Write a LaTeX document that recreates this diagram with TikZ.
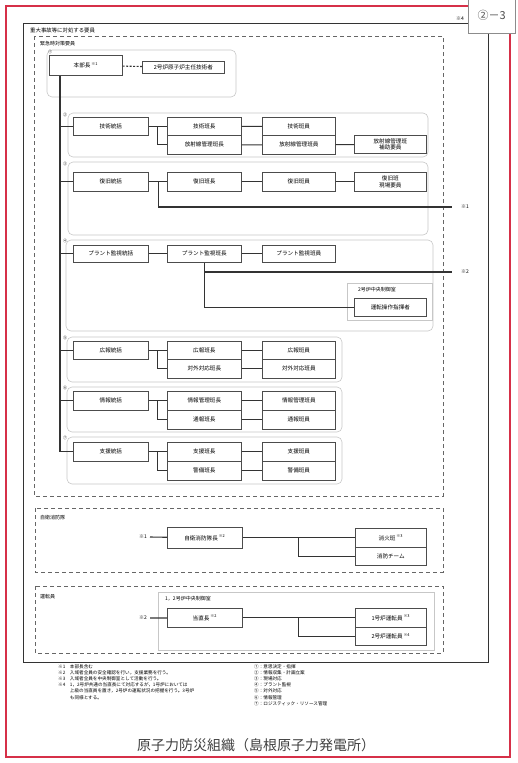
\documentclass[tikz,border=0pt]{standalone}
\usepackage{fontspec}
\setmainfont{Noto Sans CJK JP}
\definecolor{framered}{RGB}{214,48,72}
\begin{document}
\begin{tikzpicture}[x=1pt,y=-1pt,
    box/.style={draw=black!70, line width=.7pt, fill=white, anchor=north west, inner sep=0pt, align=center,
      minimum height=19pt, font=\fontsize{5.6}{6.6}\selectfont},
    c1/.style={box, minimum width=75pt},
    c2/.style={box, minimum width=74pt},
    c3/.style={box, minimum width=73pt},
    c4/.style={box, minimum width=72pt},
    conn/.style={line width=1.1pt, black!80},
    group/.style={draw=black!22, line width=.6pt, rounded corners=5pt},
    area/.style={draw=black!60, line width=.7pt, dash pattern=on 4pt off 3pt},
    tag/.style={anchor=west, inner sep=0pt, font=\fontsize{5}{6}\selectfont},
    noteline/.style={anchor=north west, inner sep=0pt, align=left, font=\fontsize{4.6}{6.2}\selectfont}]
    \useasboundingbox (0,0) rectangle (517,763);
    \coordinate (Trunk) at (60,452);% lower end of the main line
    \coordinate (RefA)  at (452,207);
    \coordinate (RefB)  at (452,272);
    \coordinate (FireIn) at (150,537);
    \coordinate (OpIn)   at (150,618);
    % frames
    \draw [framered, line width=1.6pt] (6,6) rectangle (510,757);
    \draw [black!80, line width=.9pt] (23,23) rectangle (488,662);
    \node [draw=black!45, fill=white, anchor=north west, minimum width=47pt, minimum height=35pt, inner sep=0pt,
      font=\fontsize{11}{12}\selectfont, text=black!70] (pageno) at (468,-2) {②－3};
    \node [tag] (refD) at (456,19) {※4};
    \node [tag, font=\fontsize{5.4}{6}\selectfont] (crew) at (30,30) {重大事故等に対処する要員};
    % emergency staff
    \draw [area] (34,36) rectangle (443,496);
    \node [tag] (staff) at (40,44) {緊急時対策要員};
    \draw [group] (47,50) rectangle (236,97);
    \draw [group] (68,113) rectangle (428,157);
    \draw [group] (68,162) rectangle (428,235);
    \draw [group] (66,240) rectangle (433,331);
    \draw [group] (67,337) rectangle (342,382);
    \draw [group] (67,387) rectangle (342,432);
    \draw [group] (67,437) rectangle (342,484);
    \node [tag, font=\fontsize{4}{5}\selectfont] (g1) at (48,52) {①};
    \node [tag, font=\fontsize{4}{5}\selectfont] (g2) at (63,115) {②};
    \node [tag, font=\fontsize{4}{5}\selectfont] (g3) at (63,164) {③};
    \node [tag, font=\fontsize{4}{5}\selectfont] (g4) at (63,241) {④};
    \node [tag, font=\fontsize{4}{5}\selectfont] (g5) at (63,338) {⑤};
    \node [tag, font=\fontsize{4}{5}\selectfont] (g6) at (63,388) {⑥};
    \node [tag, font=\fontsize{4}{5}\selectfont] (g7) at (63,438) {⑦};
    \node [box, minimum width=73pt, minimum height=20pt] (Chief) at (49,55) {本部長\,\textsuperscript{※1}};
    \node [box, minimum width=82pt, minimum height=12pt] (Engineer) at (142,61) {2号炉原子炉主任技術者};
    \draw [conn, dash pattern=on 2pt off 1.5pt] (Chief) -- (Engineer);
    % technical
    \node [c1, minimum height=18pt] (TechHead) at (73,117) {技術統括};
    \node [c2, minimum height=18pt] (TechLead) at (167,117) {技術班長};
    \node [c2] (RadLead) at (167,135) {放射線管理班長};
    \node [c3, minimum height=18pt] (TechCrew) at (262,117) {技術班員};
    \node [c3] (RadCrew) at (262,135) {放射線管理班員};
    \node [c4, minimum height=18pt] (RadAid) at (354,135) {放射線管理班\\補助要員};
    % recovery
    \node [c1] (RecHead) at (73,172) {復旧統括};
    \node [c2] (RecLead) at (167,172) {復旧班長};
    \node [c3] (RecCrew) at (262,172) {復旧班員};
    \node [c4] (RecSite) at (354,172) {復旧班\\現場要員};
    \node [tag, xshift=9pt] (RefAtxt) at (RefA) {※1};
    % plant watch
    \node [c1, minimum height=17pt] (PlantHead) at (73,245) {プラント監視統括};
    \node [c2, minimum height=17pt] (PlantLead) at (167,245) {プラント監視班長};
    \node [c3, minimum height=17pt] (PlantCrew) at (262,245) {プラント監視班員};
    \draw [draw=black!22, line width=.6pt] (347,283) rectangle (432,320);
    \node [tag] (RoomA) at (358,290) {2号炉中央制御室};
    \node [c4, minimum height=18pt] (Shift) at (354,298) {運転操作指揮者};
    \node [tag, xshift=9pt] (RefBtxt) at (RefB) {※2};
    % public relations
    \node [c1, minimum height=18pt] (PrHead) at (73,341) {広報統括};
    \node [c2, minimum height=18pt] (PrLead) at (167,341) {広報班長};
    \node [c2] (ExtLead) at (167,359) {対外対応班長};
    \node [c3, minimum height=18pt] (PrCrew) at (262,341) {広報班員};
    \node [c3] (ExtCrew) at (262,359) {対外対応班員};
    % information
    \node [c1] (InfoHead) at (73,391) {情報統括};
    \node [c2] (InfoLead) at (167,391) {情報管理班長};
    \node [c2] (CallLead) at (167,410) {通報班長};
    \node [c3] (InfoCrew) at (262,391) {情報管理班員};
    \node [c3] (CallCrew) at (262,410) {通報班員};
    % support
    \node [c1] (SupHead) at (73,442) {支援統括};
    \node [c2] (SupLead) at (167,442) {支援班長};
    \node [c2] (GuardLead) at (167,461) {警備班長};
    \node [c3] (SupCrew) at (262,442) {支援班員};
    \node [c3] (GuardCrew) at (262,461) {警備班員};
    % connectors
    \draw [conn] (Chief.south -| Trunk) -- (Trunk);
    \draw [conn] (Trunk |- TechHead.west) -- (TechHead.west);
    \draw [conn] (Trunk |- RecHead.west) -- (RecHead.west);
    \draw [conn] (Trunk |- PlantHead.west) -- (PlantHead.west);
    \draw [conn] (Trunk |- PrHead.west) -- (PrHead.west);
    \draw [conn] (Trunk |- InfoHead.west) -- (InfoHead.west);
    \draw [conn] (Trunk |- SupHead.west) -- (SupHead.west);
    \draw [conn] (TechHead) -- (TechLead) (TechHead.east) ++(9,0) |- (RadLead.west);
    \draw [conn] (TechLead) -- (TechCrew) (RadLead) -- (RadCrew) -- (RadAid);
    \draw [conn] (RecHead) -- (RecLead) -- (RecCrew) -- (RecSite);
    \draw [conn] (RecHead.east) ++(10,0) |- (RefA);
    \draw [conn] (PlantHead) -- (PlantLead) -- (PlantCrew);
    \draw [conn] (PlantLead.south) |- (Shift.west);
    \draw [conn] (PlantLead.south |- RefB) -- (RefB);
    \draw [conn] (PrHead) -- (PrLead) (PrHead.east) ++(9,0) |- (ExtLead.west);
    \draw [conn] (PrLead) -- (PrCrew) (ExtLead) -- (ExtCrew);
    \draw [conn] (InfoHead) -- (InfoLead) (InfoHead.east) ++(9,0) |- (CallLead.west);
    \draw [conn] (InfoLead) -- (InfoCrew) (CallLead) -- (CallCrew);
    \draw [conn] (SupHead) -- (SupLead) (SupHead.east) ++(9,0) |- (GuardLead.west);
    \draw [conn] (SupLead) -- (SupCrew) (GuardLead) -- (GuardCrew);
    % fire brigade
    \draw [area] (35,508) rectangle (443,572);
    \node [tag] (fire) at (40,518) {自衛消防隊};
    \node [tag, anchor=east, xshift=-3pt] (FireRef) at (FireIn) {※1};
    \node [c2, minimum width=75pt, minimum height=21pt] (FireChief) at (167,527) {自衛消防隊長\,\textsuperscript{※2}};
    \node [c4, minimum width=71pt] (FireSquad) at (355,528) {消火班\,\textsuperscript{※3}};
    \node [c4, minimum width=71pt, minimum height=18pt] (FireTeam) at (355,547) {消防チーム};
    \draw [conn] (FireIn) -- (FireChief);
    \draw [conn] (FireChief) -- (FireSquad) (FireChief.east) ++(56,0) |- (FireTeam.west);
    % operators
    \draw [area] (35,586) rectangle (443,653);
    \node [tag] (ops) at (40,597) {運転員};
    \draw [draw=black!22, line width=.6pt] (158,592) rectangle (434,650);
    \node [tag] (RoomB) at (165,599) {1，2号炉中央制御室};
    \node [tag, anchor=east, xshift=-3pt] (OpRef) at (OpIn) {※2};
    \node [c2, minimum width=75pt] (ShiftChief) at (167,608) {当直長\,\textsuperscript{※2}};
    \node [c4, minimum width=71pt] (UnitOne) at (355,608) {1号炉運転員\,\textsuperscript{※3}};
    \node [c4, minimum width=71pt, minimum height=18pt] (UnitTwo) at (355,627) {2号炉運転員\,\textsuperscript{※4}};
    \draw [conn] (OpIn) -- (ShiftChief);
    \draw [conn] (ShiftChief) -- (UnitOne) (ShiftChief.east) ++(56,0) |- (UnitTwo.west);
    % notes
    \node [noteline] (NotesL) at (58,664) {※1\quad 本部長含む\\
      ※2\quad 入域者全員の安全確認を行い，支援業務を行う。\\
      ※3\quad 入域者全員を中央制御室として活動を行う。\\
      ※4\quad 1，2号炉共通の当直長にて対応するが，1号炉においては\\
      \phantom{※4}\quad 上級の当直員を置き，2号炉の運転状況の把握を行う。3号炉\\
      \phantom{※4}\quad も同様とする。};
    \node [noteline] (NotesR) at (254,664) {①：意思決定・指揮\\ ②：情報収集・計画立案\\ ③：現場対応\\
      ④：プラント監視\\ ⑤：対外対応\\ ⑥：情報管理\\ ⑦：ロジスティック・リソース管理};
    \node [font=\fontsize{14}{15}\selectfont, text=black!75] (title) at (256,745) {原子力防災組織（島根原子力発電所）};
\end{tikzpicture}
\end{document}
